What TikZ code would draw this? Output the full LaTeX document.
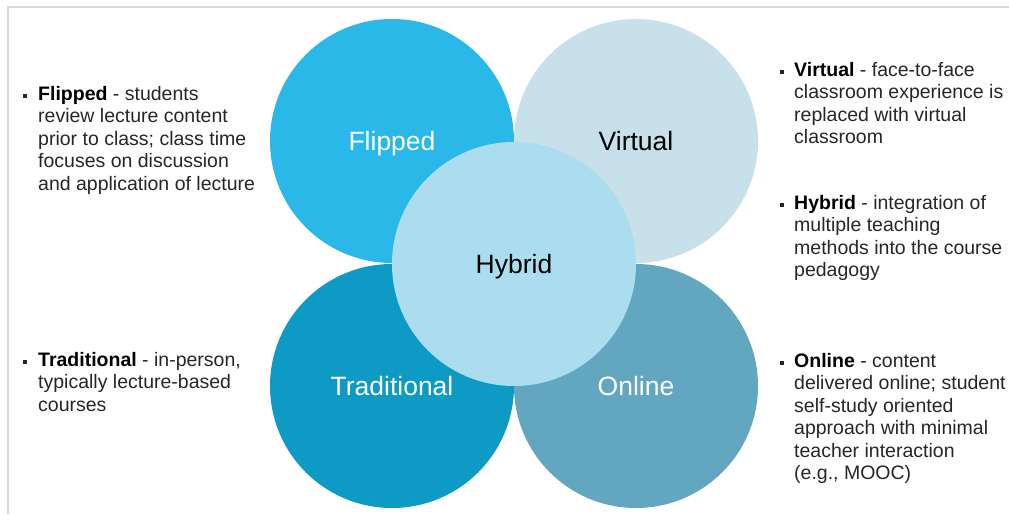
\documentclass[tikz,border=0pt]{standalone}
\usepackage{fontspec}
\setmainfont{Liberation Sans}
\definecolor{cflip}{HTML}{29B8E8}
\definecolor{cvirt}{HTML}{C7E0EA}
\definecolor{chyb}{HTML}{ABDDEE}
\definecolor{ctrad}{HTML}{0D9AC4}
\definecolor{conl}{HTML}{63A6C0}
\definecolor{ctext}{HTML}{262626}
\definecolor{cframe}{HTML}{D9D9D9}
\begin{document}
\begin{tikzpicture}[x=1pt,y=-1pt,
  circ/.style={circle, minimum size=244pt, inner sep=0pt, font=\fontsize{26.5}{30}\selectfont, text height=19pt, text depth=0pt},
  desc/.style={anchor=north west, inner sep=0pt, align=left, text=ctext, font=\fontsize{19.5}{22.5}\selectfont},
  bul/.style={rectangle, fill=ctext, minimum size=4.5pt, inner sep=0pt}]
\useasboundingbox (0,0) rectangle (1009,514);
\draw[cframe, line width=1.5pt] (8,514) -- (8,7) -- (1009,7);
% circles
\node[circ, fill=cflip, text=white] (flipped) at (392,141) {Flipped};
\node[circ, fill=cvirt, text=black] (virtual) at (636,141) {Virtual};
\node[circ, fill=ctrad, text=white] (traditional) at (392,386) {Traditional};
\node[circ, fill=conl, text=white] (online) at (636,386) {Online};
\node[circ, fill=chyb, text=black] (hybrid) at (514,264) {Hybrid};
% left descriptions
\node[bul] (b1) at (25,96) {};
\node[desc] (d1) at (38,86) {\textbf{\color{black}Flipped} - students\\review lecture content\\prior to class; class time\\focuses on discussion\\and application of lecture};
\node[bul] (b2) at (25,362) {};
\node[desc] (d2) at (38,352) {\textbf{\color{black}Traditional} - in-person,\\typically lecture-based\\courses};
% right descriptions
\node[bul] (b3) at (782,72) {};
\node[desc] (d3) at (794,62) {\textbf{\color{black}Virtual} - face-to-face\\classroom experience is\\replaced with virtual\\classroom};
\node[bul] (b4) at (782,205) {};
\node[desc] (d4) at (794,195) {\textbf{\color{black}Hybrid} - integration of\\multiple teaching\\methods into the course\\pedagogy};
\node[bul] (b5) at (782,363) {};
\node[desc] (d5) at (794,353) {\textbf{\color{black}Online} - content\\delivered online; student\\self-study oriented\\approach with minimal\\teacher interaction\\(e.g., MOOC)};
\end{tikzpicture}
\end{document}
